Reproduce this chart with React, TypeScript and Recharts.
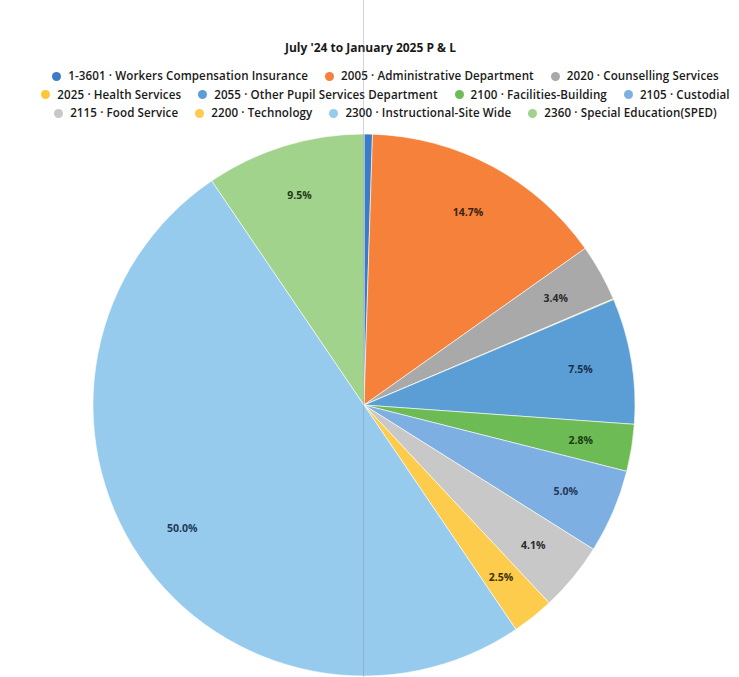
import React from 'react';
import { PieChart, Pie, Cell } from 'recharts';

const departments = [
  '1-3601 · Workers Compensation Insurance',
  '2005 · Administrative Department',
  '2020 · Counselling Services',
  '2025 · Health Services',
  '2055 · Other Pupil Services Department',
  '2100 · Facilities-Building',
  '2105 · Custodial',
  '2115 · Food Service',
  '2200 · Technology',
  '2300 · Instructional-Site Wide',
  '2360 · Special Education(SPED)',
];

const shares = [0.5, 14.7, 3.4, 0.05, 7.5, 2.8, 5.0, 4.1, 2.5, 50.0, 9.5];

const colors = [
  '#3a7cc6', '#f5813a', '#a9a9a9', '#fdc735', '#5b9ed6', '#6dbb55',
  '#7dafe2', '#c8c8c8', '#fecc4c', '#96cbee', '#a1d38c',
];

const labelColors = [
  '#1d3d63', '#3a2412', '#2b2b2b', '#3d300a', '#16304d', '#1d3a16',
  '#1f3858', '#2b2b2b', '#3d300a', '#1d3a55', '#1f3a18',
];

const legendRows = [[0, 1, 2], [3, 4, 5, 6], [7, 8, 9, 10]];

const data = departments.map((name, i) => ({ name, value: shares[i] }));

const RADIAN = Math.PI / 180;

function renderLabel(props: any) {
  const { cx, cy, midAngle, outerRadius, index, value } = props;
  if (value < 1) return null;
  const r = outerRadius * 0.81;
  const x = cx + r * Math.cos(-midAngle * RADIAN);
  const y = cy + r * Math.sin(-midAngle * RADIAN);
  return (
    <text
      x={x}
      y={y}
      textAnchor="middle"
      dominantBaseline="central"
      fill={labelColors[index]}
      fontSize={10.5}
      fontWeight="bold"
      fontFamily="'Open Sans', sans-serif"
    >
      {value.toFixed(1)}%
    </text>
  );
}

function ChartLegend() {
  return (
    <div
      style={{
        position: 'absolute', top: 39, left: 0, width: 739,
        fontFamily: "'Open Sans', sans-serif", color: '#1a1a1a',
      }}
    >
      <div style={{ textAlign: 'center', fontWeight: 'bold', fontSize: 12, marginBottom: 11, paddingLeft: 2 }}>
        July '24 to January 2025 P &amp; L
      </div>
      {legendRows.map((row, ri) => (
        <div
          key={ri}
          style={{
            display: 'flex', justifyContent: 'center', gap: 17, fontSize: 11.6,
            fontWeight: 600, lineHeight: '18.5px', letterSpacing: 0.1, paddingLeft: 32,
          }}
        >
          {row.map((i) => (
            <span key={i} style={{ display: 'flex', alignItems: 'center', whiteSpace: 'nowrap' }}>
              <span
                style={{
                  display: 'inline-block', width: 9, height: 9, borderRadius: '50%',
                  background: colors[i], marginRight: 7,
                }}
              />
              {departments[i]}
            </span>
          ))}
        </div>
      ))}
    </div>
  );
}

export default function App() {
  return (
    <div style={{ position: 'absolute', left: 0, top: 0, width: 739, height: 677, background: '#fff' }}>
      <PieChart width={739} height={677} margin={{ top: 0, right: 0, bottom: 0, left: 0 }}>
        <Pie
          data={data}
          dataKey="value"
          nameKey="name"
          cx={364}
          cy={405}
          outerRadius={271}
          startAngle={90}
          endAngle={-270}
          stroke="#ffffff"
          strokeWidth={0.6}
          label={renderLabel}
          labelLine={false}
          isAnimationActive={false}
        >
          {data.map((d, i) => (
            <Cell key={d.name} fill={colors[i]} />
          ))}
        </Pie>
      </PieChart>
      <ChartLegend />
      <div style={{ position: 'absolute', left: 363, top: 0, width: 1, height: 677, background: 'rgba(120,130,160,0.35)' }} />
    </div>
  );
}
